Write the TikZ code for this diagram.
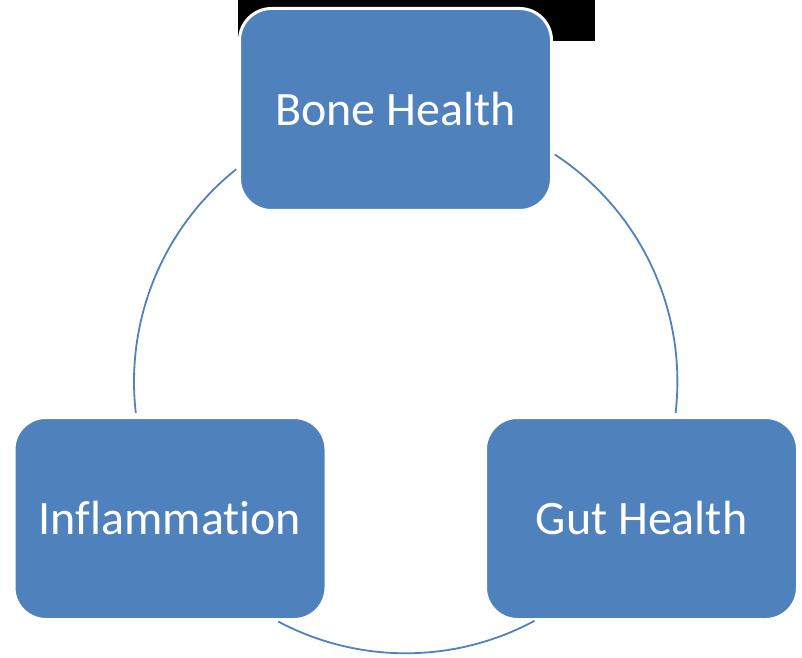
\documentclass[tikz,border=0pt]{standalone}
\usepackage{fontspec}
\setmainfont{Carlito}[Ligatures=NoCommon]
\usepackage{tikz}
\usetikzlibrary{positioning,calc}
\usepackage{xcolor}
\definecolor{cycleblue}{RGB}{79,129,189}

\begin{document}
\begin{tikzpicture}[
    x=1pt,y=1pt,
    topic/.style={draw=white,line width=3pt,fill=cycleblue,rounded corners=32pt,minimum width=312pt,minimum height=202pt,inner sep=0pt,align=center,text=white,font=\fontsize{48}{58}\selectfont},
    link/.style={draw=cycleblue,line width=1.8pt}
]
\useasboundingbox (0,0) rectangle (802,657);
\fill[black] (238,616) rectangle (595,657);
\coordinate (hub) at (405.7,275.4);
\node[topic] (bone) at (395.5,547.5) {Bone Health};
\node[topic] (gut) at (641.5,138.5) {Gut Health};
\node[topic] (infl) at (170,138.5) {Inflammation};
\draw[link] (hub) ++(56.7:271.7) arc[start angle=56.7,end angle=-6.6,radius=271.7];
\draw[link] (hub) ++(298.3:271.7) arc[start angle=298.3,end angle=242,radius=271.7];
\draw[link] (hub) ++(186.6:271.7) arc[start angle=186.6,end angle=128.6,radius=271.7];
\end{tikzpicture}
\end{document}
